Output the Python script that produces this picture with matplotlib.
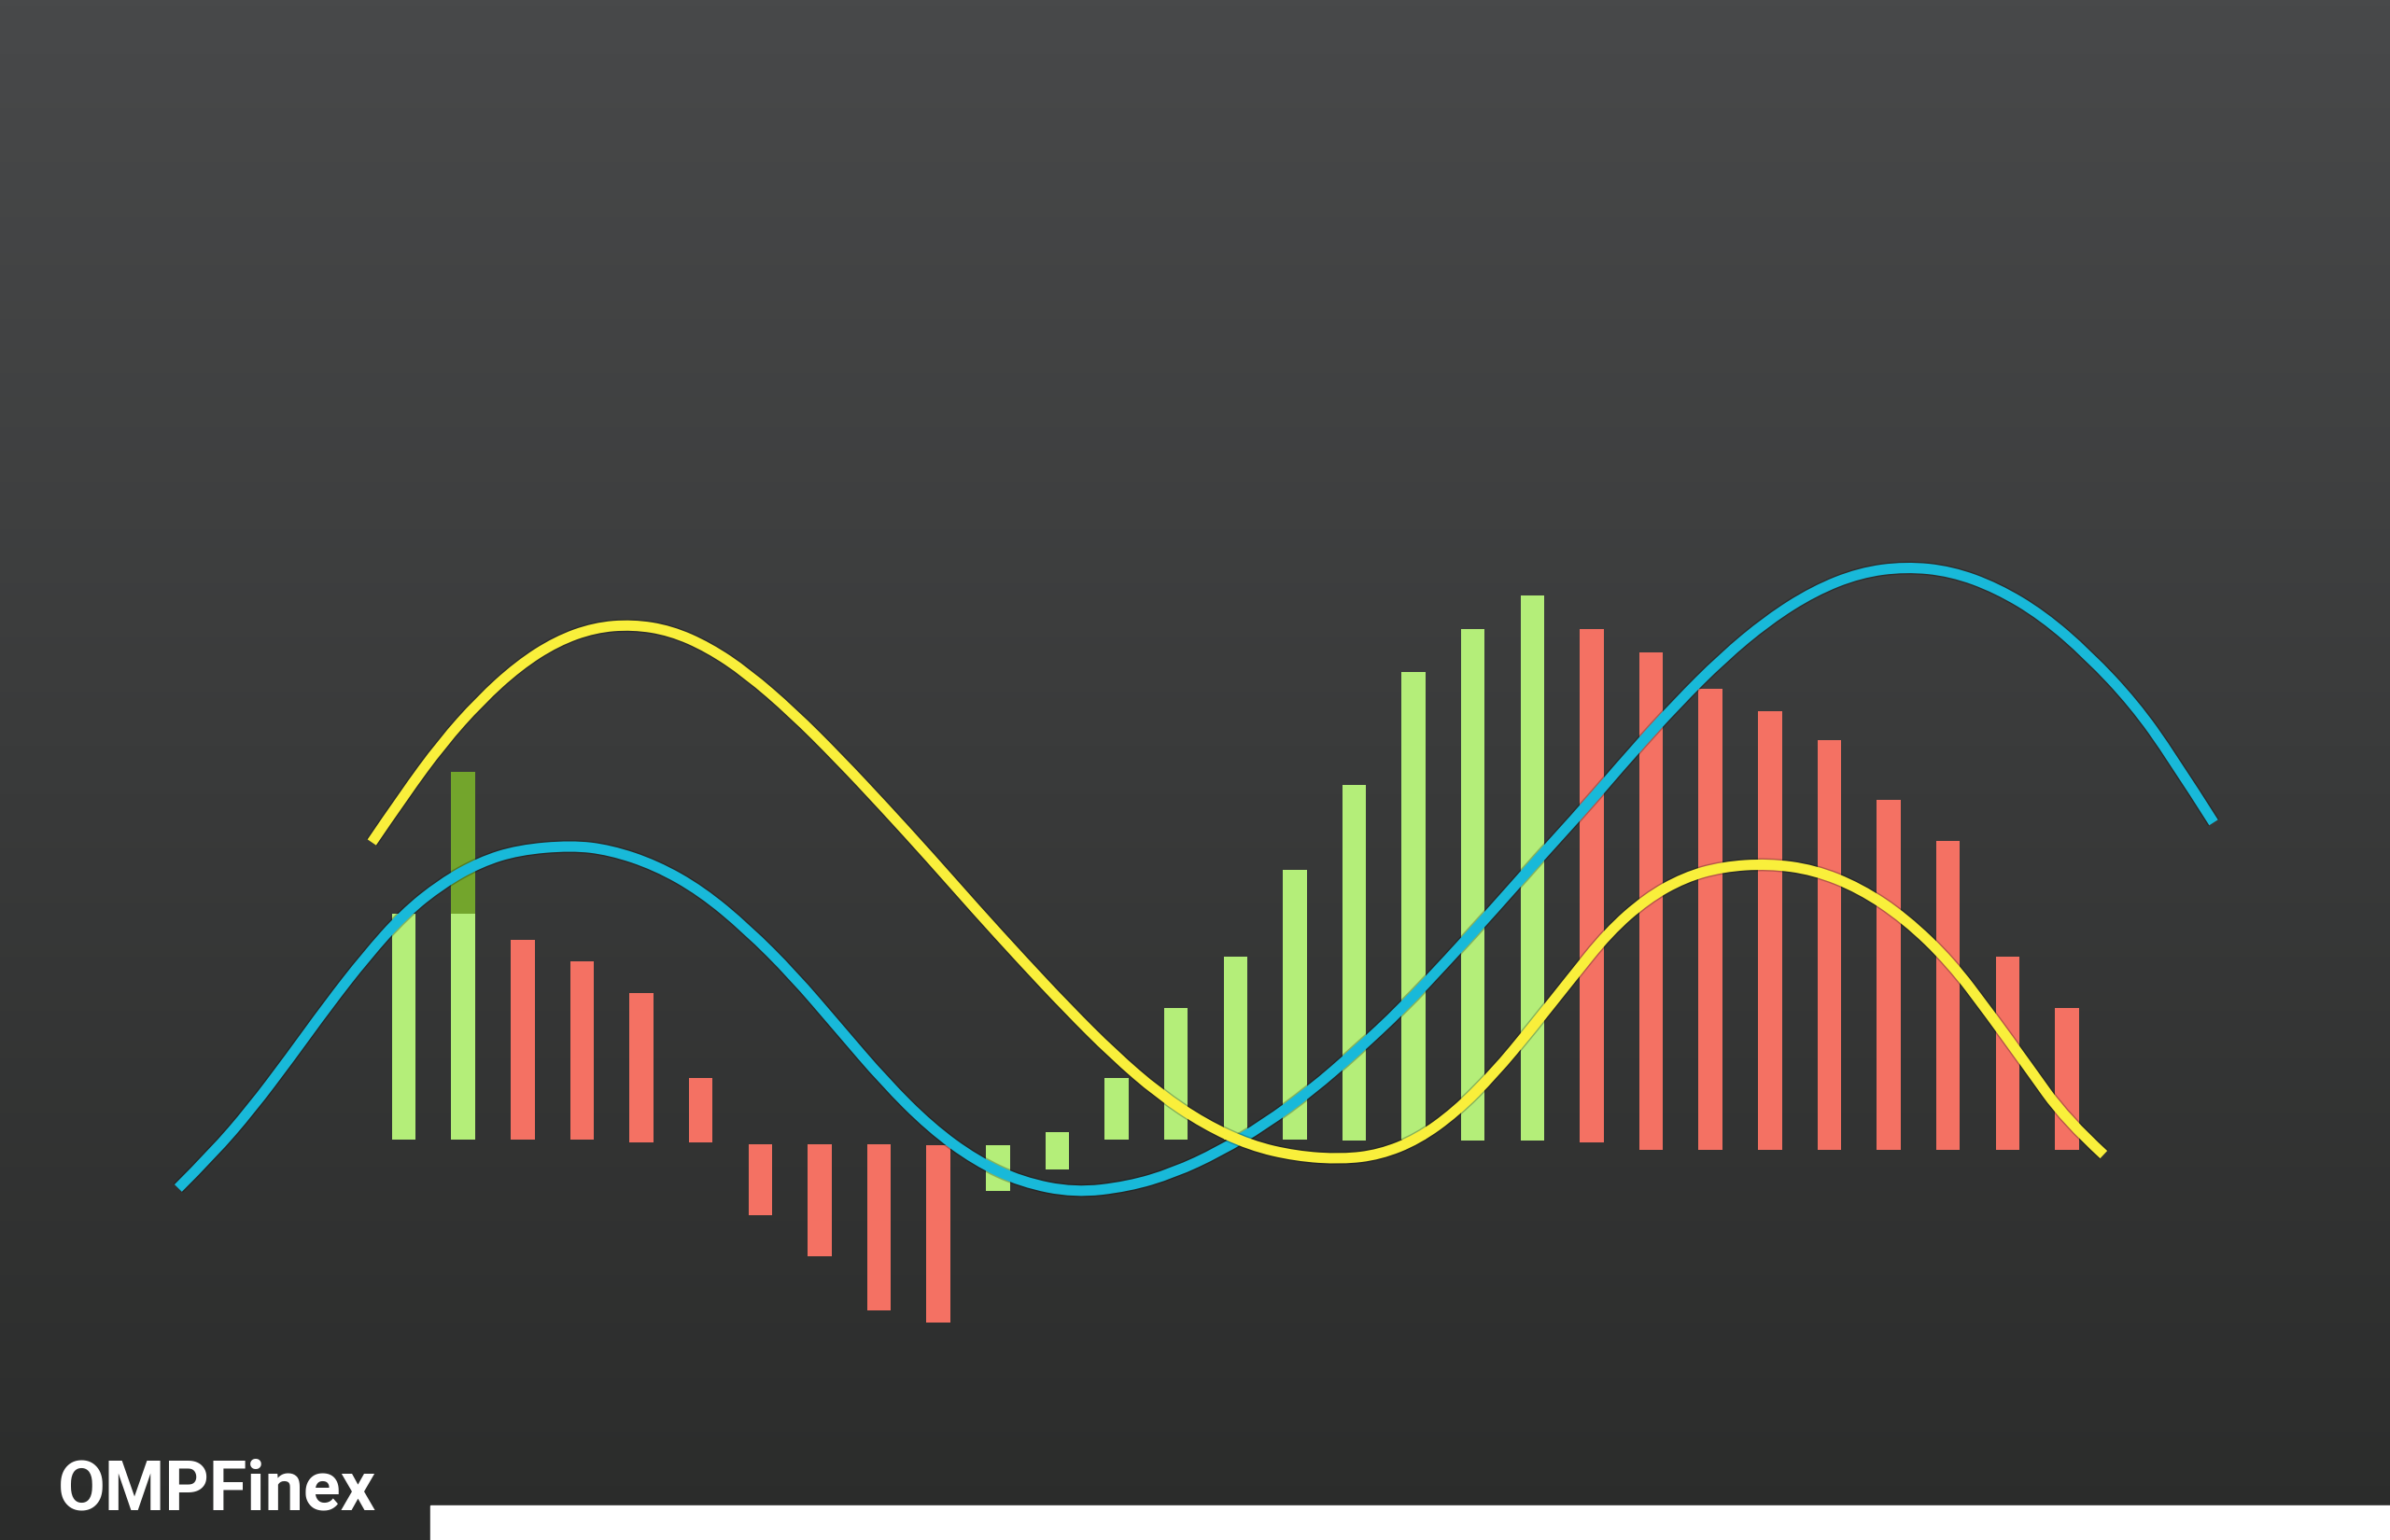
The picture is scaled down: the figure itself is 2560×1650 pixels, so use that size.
import numpy as np
import matplotlib.pyplot as plt
from matplotlib.patches import Rectangle, PathPatch
from matplotlib.path import Path
import matplotlib.patheffects as pe

# histogram bars: bottom / top values (baseline ~ 0), one per period
bar_bottom = [0.02, 0.02, 0.02, 0.02, 0.00, 0.00, -0.48, -0.75, -1.10, -1.18,
              -0.32, -0.18, 0.02, 0.02, 0.02, 0.02, 0.01, 0.02, 0.01, 0.01,
              0.00, -0.05, -0.05, -0.05, -0.05, -0.05, -0.05, -0.05, -0.05]
bar_top = [1.50, 1.50, 1.33, 1.19, 0.98, 0.42, -0.01, -0.01, -0.01, -0.02,
           -0.02, 0.07, 0.42, 0.88, 1.22, 1.79, 2.35, 3.09, 3.37, 3.59,
           3.37, 3.22, 2.98, 2.83, 2.64, 2.25, 1.98, 1.22, 0.88]
bar_up = [1, 1, 0, 0, 0, 0, 0, 0, 0, 0,
          1, 1, 1, 1, 1, 1, 1, 1, 1, 1,
          0, 0, 0, 0, 0, 0, 0, 0, 0]
# darker extension on bar 1
spike_idx = 1
spike_top = 2.43

# blue (MACD) line, x in bar periods
blue_x = [-3.80, -3.21, -2.57, -1.93, -1.28, -0.64, 0.00, 0.64, 1.28, 1.93,
          2.82, 3.47, 4.24, 5.01, 5.78, 6.55, 7.32, 8.09, 8.86, 9.63,
          10.40, 11.29, 12.19, 12.96, 13.73, 14.50, 15.27, 16.04, 16.81, 17.58,
          18.35, 19.12, 19.89, 20.66, 21.43, 22.20, 22.97, 23.74, 24.51, 25.28,
          26.05, 26.82, 27.59, 28.36, 29.13, 29.77, 30.47]
blue_y = [-0.30, -0.07, 0.22, 0.55, 0.90, 1.22, 1.50, 1.70, 1.84, 1.92,
          1.95, 1.92, 1.82, 1.65, 1.40, 1.10, 0.75, 0.40, 0.10, -0.12,
          -0.26, -0.33, -0.29, -0.20, -0.06, 0.12, 0.34, 0.60, 0.88, 1.20,
          1.53, 1.87, 2.20, 2.55, 2.88, 3.18, 3.43, 3.62, 3.74, 3.78,
          3.75, 3.64, 3.46, 3.20, 2.88, 2.53, 2.10]
# yellow (signal) line
yellow_x = [-0.54, 0.00, 0.64, 1.28, 1.93, 2.57, 3.21, 3.85, 4.49, 5.13,
            5.78, 6.55, 7.32, 8.09, 8.86, 9.63, 10.40, 11.17, 11.94, 12.71,
            13.48, 14.25, 15.02, 15.79, 16.43, 17.07, 17.71, 18.35, 18.99, 19.64,
            20.28, 20.92, 21.56, 22.20, 22.97, 23.74, 24.51, 25.28, 26.05, 26.69,
            27.34, 27.98, 28.62]
yellow_y = [1.97, 2.28, 2.62, 2.90, 3.13, 3.29, 3.38, 3.40, 3.36, 3.25,
            3.08, 2.82, 2.52, 2.20, 1.87, 1.53, 1.20, 0.88, 0.58, 0.32,
            0.12, -0.02, -0.09, -0.11, -0.08, 0.02, 0.20, 0.45, 0.75, 1.07,
            1.38, 1.60, 1.74, 1.81, 1.83, 1.79, 1.67, 1.47, 1.18, 0.85,
            0.50, 0.15, -0.08]


def smooth_path(xs, ys):
    # quadratic bezier through midpoints, so the stroke renders without kinks
    pts = np.column_stack([xs, ys])
    verts = [pts[0]]
    codes = [Path.MOVETO]
    for i in range(1, len(pts) - 1):
        mid = (pts[i] + pts[i + 1]) / 2
        if i == len(pts) - 2:
            mid = pts[i + 1]
        verts += [pts[i], mid]
        codes += [Path.CURVE3, Path.CURVE3]
    return Path(verts, codes)


W, H, DPI = 2560, 1650, 100
fig = plt.figure(figsize=(W / DPI, H / DPI), dpi=DPI)
ax = fig.add_axes([0, 0, 1, 1])
ax.set_xlim(-6.80, 33.44)
ax.set_ylim(-2.61, 7.50)
ax.axis("off")

# background gradient
grad = np.linspace(0, 1, 256).reshape(-1, 1)
top_c = np.array([72, 73, 74]) / 255
bot_c = np.array([43, 44, 43]) / 255
img = top_c * (1 - grad[..., None]) + bot_c * grad[..., None]
img = np.repeat(img, 2, axis=1)
ax.imshow(img, extent=[-6.80, 33.44, -2.61, 7.50], aspect="auto", zorder=0)

green = "#b4ee79"
red = "#f47163"
x = np.arange(len(bar_top))
heights = np.array(bar_top) - np.array(bar_bottom)
colors = [green if u else red for u in bar_up]
ax.bar(x, heights, bottom=bar_bottom, width=0.40, color=colors, zorder=2)
ax.bar(spike_idx, spike_top - bar_top[spike_idx], bottom=bar_top[spike_idx],
       width=0.40, color="#73a52c", zorder=2)

shadow = [pe.Stroke(linewidth=10, foreground=(0, 0, 0, 0.25)), pe.Normal()]
for xs, ys, col, z in [(blue_x, blue_y, "#18b9d9", 3),
                       (yellow_x, yellow_y, "#f9ef3b", 4)]:
    patch = PathPatch(smooth_path(xs, ys), fill=False, edgecolor=col, lw=8,
                      capstyle="butt", joinstyle="round", zorder=z,
                      path_effects=shadow)
    ax.add_patch(patch)

# white strip at the bottom and logo
fig.patches.append(Rectangle((461 / W, 0), 1 - 461 / W, 37 / H,
                             transform=fig.transFigure, color="white", zorder=5))
fig.text(62 / W, 33 / H, "OMPFinex", color="white", fontsize=53,
         fontweight="bold", family="Roboto", ha="left", va="baseline")

fig.savefig("out.png", dpi=DPI)
